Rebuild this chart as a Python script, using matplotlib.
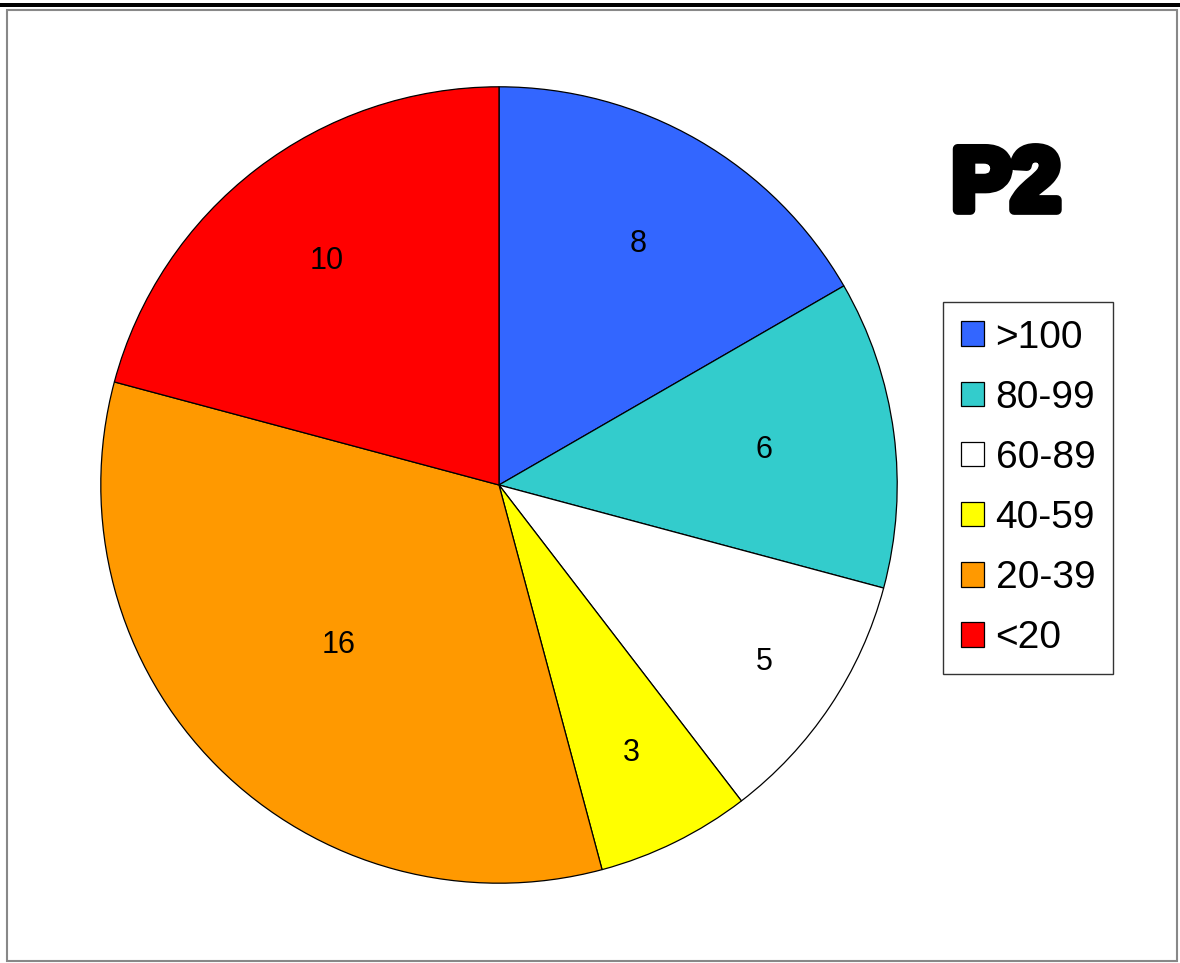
import matplotlib
matplotlib.use("Agg")
import matplotlib.pyplot as plt
import matplotlib.patheffects as pe
from matplotlib.patches import Rectangle
import numpy as np

plt.rcParams['font.family'] = ['Liberation Sans', 'DejaVu Sans']

categories = ['>100', '80-99', '60-89', '40-59', '20-39', '<20']
values = [8, 6, 5, 3, 16, 10]
colors = ['#3366FF', '#33CCCC', '#FFFFFF', '#FFFF00', '#FF9900', '#FF0000']
# how far out each value label sits (fraction of radius), as in the original
label_radius = [0.70, 0.67, 0.80, 0.75, 0.57, 0.71]

W, H = 1180, 963


def main():
    fig = plt.figure(figsize=(W / 100, H / 100), dpi=100)

    # page frame: thick top rule and thin grey box
    fig.add_artist(Rectangle((0, 1 - 7 / H), 1, 4 / H, transform=fig.transFigure,
                             facecolor='black', edgecolor='none'))
    fig.add_artist(Rectangle((7 / W, 2 / H), (W - 10) / W, (H - 12) / H,
                             transform=fig.transFigure, facecolor='none',
                             edgecolor='#888888', linewidth=1.5))

    cx, cy, r = 499, 485, 399
    ax = fig.add_axes([(cx - r) / W, (H - cy - r) / H, 2 * r / W, 2 * r / H])
    wedges, _ = ax.pie(values, colors=colors, startangle=90, counterclock=False,
                       radius=1, labels=None,
                       wedgeprops=dict(edgecolor='black', linewidth=0.9))
    for w, v, d in zip(wedges, values, label_radius):
        mid = np.deg2rad((w.theta1 + w.theta2) / 2)
        ax.text(d * np.cos(mid), d * np.sin(mid), str(v), ha='center', va='center',
                fontsize=22, color='black')
    ax.set_xlim(-1.002, 1.002)
    ax.set_ylim(-1.002, 1.002)
    ax.set_aspect('equal')
    ax.axis('off')

    fig.text(1006 / W, 1 - 187 / H, 'P2', ha='center', va='center', fontsize=64,
             fontweight='bold', color='black',
             path_effects=[pe.withStroke(linewidth=7, foreground='black')])

    leg = fig.legend(wedges, categories, loc='upper left',
                     bbox_to_anchor=(943 / W, 1 - 302 / H), fontsize=28,
                     frameon=True, fancybox=False, edgecolor='black',
                     handlelength=0.6, handleheight=0.6, handletextpad=0.3,
                     labelspacing=0.62, borderpad=0.45, borderaxespad=0)
    leg.get_frame().set_linewidth(1.0)

    fig.savefig('out.png', dpi=100, facecolor='white')


if __name__ == "__main__":
    main()
